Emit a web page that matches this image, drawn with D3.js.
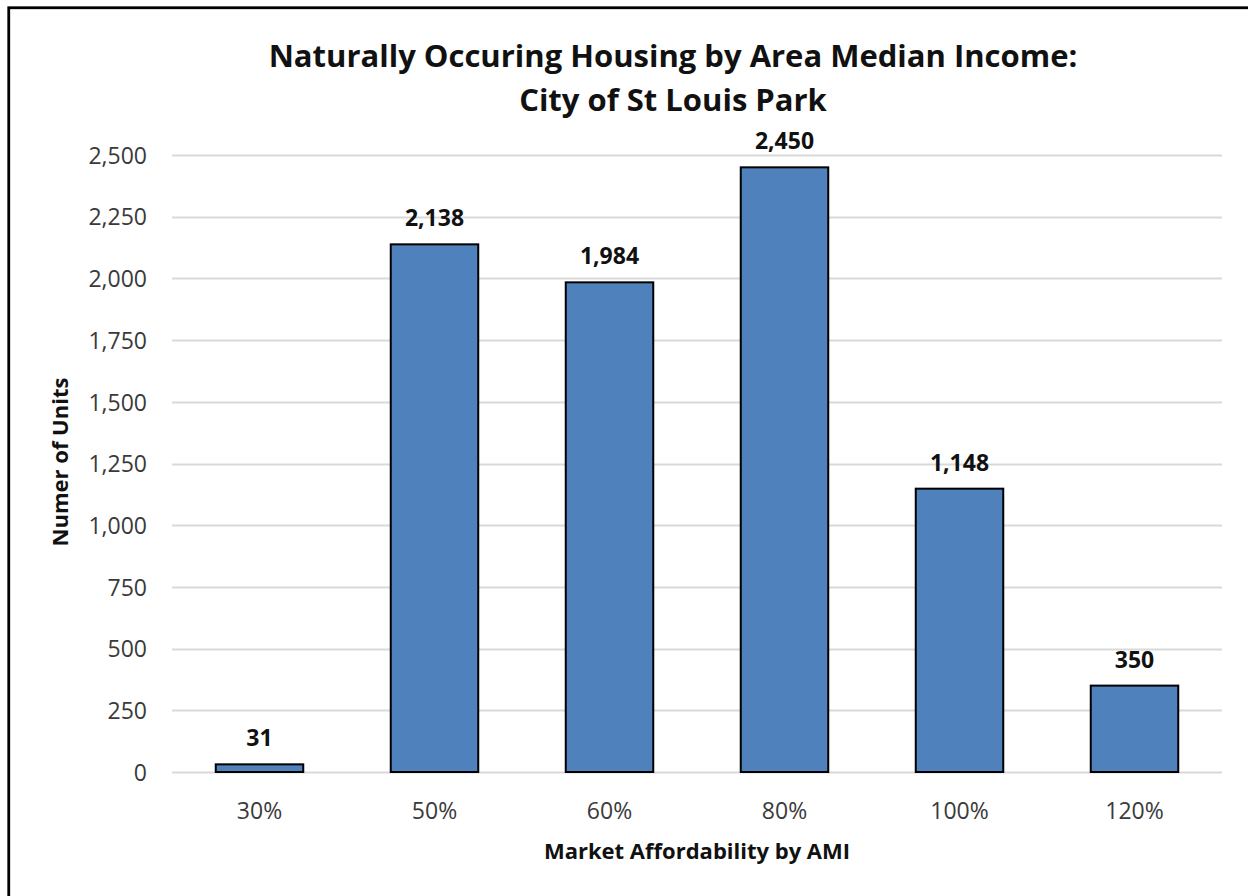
<!DOCTYPE html>
<html>
<head>
<meta charset="utf-8">
<script src="https://cdn.jsdelivr.net/npm/d3@7"></script>
<style>
  html, body { margin: 0; padding: 0; background: #fff; }
  svg { display: block; }
  text { font-family: "Open Sans", sans-serif; }
</style>
</head>
<body>
<svg id="chart" width="1248" height="896"></svg>
<script>
// Units of naturally occurring affordable housing, by AMI band
const categories = ["30%", "50%", "60%", "80%", "100%", "120%"];
const units = [31, 2138, 1984, 2450, 1148, 350];
const yTicks = [0, 250, 500, 750, 1000, 1250, 1500, 1750, 2000, 2250, 2500];
const titleLines = ["Naturally Occuring Housing by Area Median Income:", "City of St Louis Park"];
const xTitle = "Market Affordability by AMI";
const yTitle = "Numer of Units";

const svg = d3.select("#chart");
const W = 1248, H = 896;
const m = { left: 172, right: 1222, top: 155, bottom: 772 };
const FONT = "'Open Sans', sans-serif";

svg.append("rect").attr("width", W).attr("height", H).attr("fill", "#fff");

// outer frame (runs past the right and bottom edges)
svg.append("rect")
  .attr("x", 8.75).attr("y", 7.75)
  .attr("width", W + 20).attr("height", H + 20)
  .attr("fill", "none").attr("stroke", "#000").attr("stroke-width", 2.8);

const x = d3.scaleBand().domain(categories).range([m.left, m.right]).paddingInner(0.5).paddingOuter(0.25);
const y = d3.scaleLinear().domain([0, 2500]).range([m.bottom, m.top]);

// gridlines
svg.append("g")
  .selectAll("line").data(yTicks).join("line")
  .attr("x1", m.left).attr("x2", m.right)
  .attr("y1", d => Math.round(y(d)) + 0.5).attr("y2", d => Math.round(y(d)) + 0.5)
  .attr("stroke", "#d9d9d9").attr("stroke-width", 2);

// y axis labels
const yAxis = d3.axisLeft(y).tickValues(yTicks).tickFormat(d3.format(",")).tickSize(0).tickPadding(25);
const gy = svg.append("g").attr("transform", `translate(${m.left},0)`).call(yAxis);
gy.select(".domain").remove();
gy.selectAll("text").attr("font-size", 23).attr("fill", "#3a3a3a").style("font-family", FONT)
  .attr("dy", "0.36em");

// x axis labels
const xAxis = d3.axisBottom(x).tickSize(0).tickPadding(0);
const gx = svg.append("g").attr("transform", `translate(0,${m.bottom})`).call(xAxis);
gx.select(".domain").remove();
gx.selectAll("text").attr("font-size", 23).attr("fill", "#3a3a3a").style("font-family", FONT)
  .attr("y", 47).attr("dy", 0);

// bars
svg.append("g")
  .selectAll("rect").data(units).join("rect")
  .attr("x", (d, i) => x(categories[i]))
  .attr("y", d => y(d))
  .attr("width", x.bandwidth())
  .attr("height", d => y(0) - y(d))
  .attr("fill", "#4f81bd").attr("stroke", "#000").attr("stroke-width", 2);

// value labels
svg.append("g")
  .selectAll("text").data(units).join("text")
  .attr("x", (d, i) => x(categories[i]) + x.bandwidth() / 2)
  .attr("y", d => y(d) - 18)
  .attr("text-anchor", "middle")
  .attr("font-size", 23).attr("font-weight", "bold").attr("fill", "#111")
  .text(d => d3.format(",")(d));

// title
svg.append("g").selectAll("text").data(titleLines).join("text")
  .attr("x", 673).attr("y", (d, i) => 67 + i * 44)
  .attr("text-anchor", "middle")
  .attr("font-size", 31).attr("font-weight", "bold").attr("fill", "#111")
  .text(d => d);

// axis titles
svg.append("text")
  .attr("x", 697).attr("y", 859)
  .attr("text-anchor", "middle")
  .attr("font-size", 22).attr("font-weight", "bold").attr("fill", "#111")
  .text(xTitle);

svg.append("text")
  .attr("transform", "translate(68,462) rotate(-90)")
  .attr("text-anchor", "middle")
  .attr("font-size", 22).attr("font-weight", "bold").attr("fill", "#111")
  .text(yTitle);
</script>
</body>
</html>
